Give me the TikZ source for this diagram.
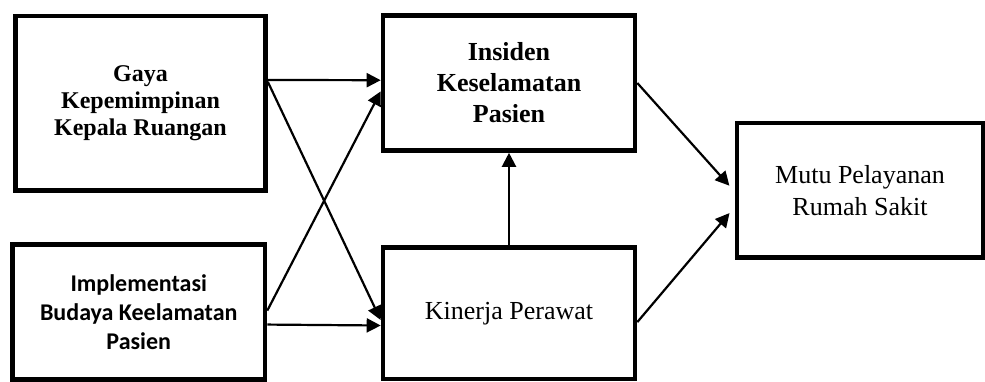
\documentclass[tikz,border=0pt]{standalone}
\usepackage{fontspec}
\setmainfont{Liberation Serif}
\newfontfamily\calfont{Carlito}
\usetikzlibrary{arrows.meta,calc}
\tikzset{
  varbox/.style={draw, line width=4.6pt, rectangle, align=center, inner sep=0pt},
  link/.style={line width=2.2pt, -{Triangle[length=14pt,width=14pt]}}
}
\begin{document}
\begin{tikzpicture}[x=1pt,y=-1pt]
  \useasboundingbox (0,0) rectangle (985,381);

  \node[varbox, minimum width=250pt, minimum height=174.5pt,
        font=\bfseries\fontsize{24}{27}\selectfont] (gaya) at (140.5,103.25)
        {Gaya\\Kepemimpinan\\Kepala Ruangan};
  \node[varbox, minimum width=252.5pt, minimum height=135pt,
        font=\calfont\bfseries\fontsize{24}{29}\selectfont] (impl) at (138.75,312)
        {Implementasi\\Budaya Keelamatan\\Pasien};
  \node[varbox, minimum width=252pt, minimum height=135pt,
        font=\bfseries\fontsize{26}{31}\selectfont] (ins) at (509,83)
        {Insiden\\Keselamatan\\Pasien};
  \node[varbox, minimum width=252pt, minimum height=131.5pt,
        font=\fontsize{26}{31}\selectfont] (kin) at (509,313.25)
        {Kinerja Perawat};
  \node[varbox, minimum width=246pt, minimum height=134.5pt,
        font=\fontsize{26}{32}\selectfont] (mutu) at (860,190.25)
        {Mutu Pelayanan\\Rumah Sakit};

  % influences on the two mediators
  \draw[link] ($(gaya.north east)!0.37!(gaya.south east)$) -- ($(ins.north west)!0.48!(ins.south west)$);
  \draw[link] ($(gaya.north east)!0.38!(gaya.south east)$) -- ($(kin.north west)!0.55!(kin.south west)$);
  \draw[link] ($(impl.north east)!0.49!(impl.south east)$) -- ($(ins.north west)!0.56!(ins.south west)$);
  \draw[link] ($(impl.north east)!0.59!(impl.south east)$) -- ($(kin.north west)!0.59!(kin.south west)$);
  \draw[link] (kin.north) -- (ins.south);

  % paths into service quality
  \draw[link, shorten >=8pt] (ins.east) -- ($(mutu.north west)!0.51!(mutu.south west)$);
  \draw[link, shorten >=8pt] ($(kin.north east)!0.565!(kin.south east)$) -- ($(mutu.north west)!0.62!(mutu.south west)$);
\end{tikzpicture}
\end{document}
